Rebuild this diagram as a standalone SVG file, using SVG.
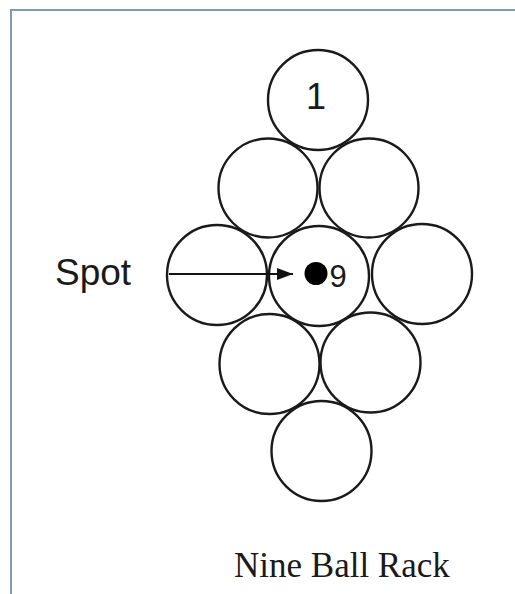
<svg xmlns="http://www.w3.org/2000/svg" width="515" height="594" viewBox="0 0 515 594">
<style>
.ball{fill:none;stroke:#1a1a1a;stroke-width:2.4}
.lbl{font-family:"Liberation Sans",Arial,sans-serif;fill:#1a1a1a}
.title{font-family:"Liberation Serif","Times New Roman",serif;fill:#1a1a1a}
</style>
<defs>
<marker id="ah" viewBox="0 0 16 12" refX="16" refY="6" markerWidth="16" markerHeight="12" markerUnits="userSpaceOnUse" orient="auto">
<path d="M0,0 L16,6 L0,12 Z" fill="#111"/>
</marker>
</defs>
<rect x="0" y="0" width="515" height="594" fill="#ffffff"/>
<rect x="11" y="10" width="520" height="600" fill="#ffffff" stroke="#7d9bb5" stroke-width="2"/>
<g id="ball1"><circle class="ball" cx="318" cy="100" r="50"/><text class="lbl" x="316" y="109" font-size="36" text-anchor="middle">1</text></g>
<g id="ball2"><circle class="ball" cx="268" cy="188" r="49.5"/></g>
<g id="ball3"><circle class="ball" cx="369" cy="188" r="49.5"/></g>
<g id="ball4"><circle class="ball" cx="217" cy="275" r="50"/></g>
<g id="ball5"><circle class="ball" cx="319" cy="276" r="50"/></g>
<g id="ball6"><circle class="ball" cx="422" cy="274" r="50"/></g>
<g id="ball7"><circle class="ball" cx="269.5" cy="364" r="50"/></g>
<g id="ball8"><circle class="ball" cx="370.5" cy="362.5" r="50"/></g>
<g id="ball9"><circle class="ball" cx="321.5" cy="451" r="50"/></g>
<g id="spotdot"><circle cx="316" cy="273.5" r="11.5" fill="#000"/><text class="lbl" x="329.5" y="287" font-size="31">9</text></g>
<g id="spotlabel"><text class="lbl" x="55" y="285" font-size="37">Spot</text></g>
<g id="connectors"><line x1="169" y1="274" x2="293" y2="274" stroke="#111" stroke-width="2.2" marker-end="url(#ah)"/></g>
<g id="title"><text class="title" x="234" y="577" font-size="35">Nine Ball Rack</text></g>
</svg>
